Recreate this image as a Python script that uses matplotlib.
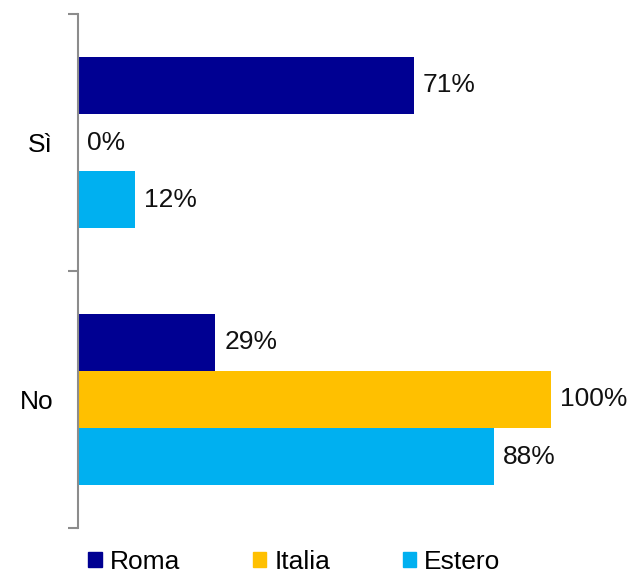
import numpy as np
import matplotlib.pyplot as plt
from matplotlib.patches import Patch

plt.rcParams['font.family'] = ['Liberation Sans', 'DejaVu Sans']

# Dati
categorie = ["Sì", "No"]
serie = ["Roma", "Italia", "Estero"]
valori = {
    "Roma": [71, 29],
    "Italia": [0, 100],
    "Estero": [12, 88],
}
colori = {"Roma": "#000092", "Italia": "#FFC000", "Estero": "#00B0F0"}

fig = plt.figure(figsize=(6.27, 5.73), dpi=100)
W, H = 627, 573
ax = fig.add_axes([78 / W, 1 - 528 / H, 473 / W, 514 / H])

y = np.arange(len(categorie))
h = 0.222
fs = 19

for i, s in enumerate(serie):
    pos = y + (i - 1) * h
    ax.barh(pos, valori[s], height=h, color=colori[s], label=s)
    for p, v in zip(pos, valori[s]):
        ax.annotate(f"{v}%", (v, p), xytext=(6.5, 0), textcoords="offset points",
                    va="center", ha="left", fontsize=fs, color="#111111",
                    annotation_clip=False)

ax.set_xlim(0, 100)
ax.set_ylim(1.5, -0.5)

# assi: solo la linea verticale con tacche ai bordi delle categorie
for lato in ["top", "right", "bottom"]:
    ax.spines[lato].set_visible(False)
ax.spines["left"].set_color("#8c8c8c")
ax.spines["left"].set_linewidth(1.5)
ax.set_xticks([])
ax.set_yticks([-0.5, 0.5, 1.5])
ax.set_yticklabels([])
ax.tick_params(axis="y", which="major", length=7, width=1.5, color="#8c8c8c")
ax.set_yticks(y, minor=True)
ax.set_yticklabels(categorie, minor=True, fontsize=fs)
ax.tick_params(axis="y", which="minor", length=0, pad=18)

handles = [Patch(color=colori[s], label=s) for s in serie]
fig.legend(handles=handles, loc="center left", bbox_to_anchor=(88 / W, 1 - 562 / H),
           ncol=3, frameon=False, fontsize=fs, handlelength=0.52, handleheight=0.48,
           handletextpad=0.3, columnspacing=2.75, borderpad=0, borderaxespad=0)

fig.savefig("out.png", dpi=100)
